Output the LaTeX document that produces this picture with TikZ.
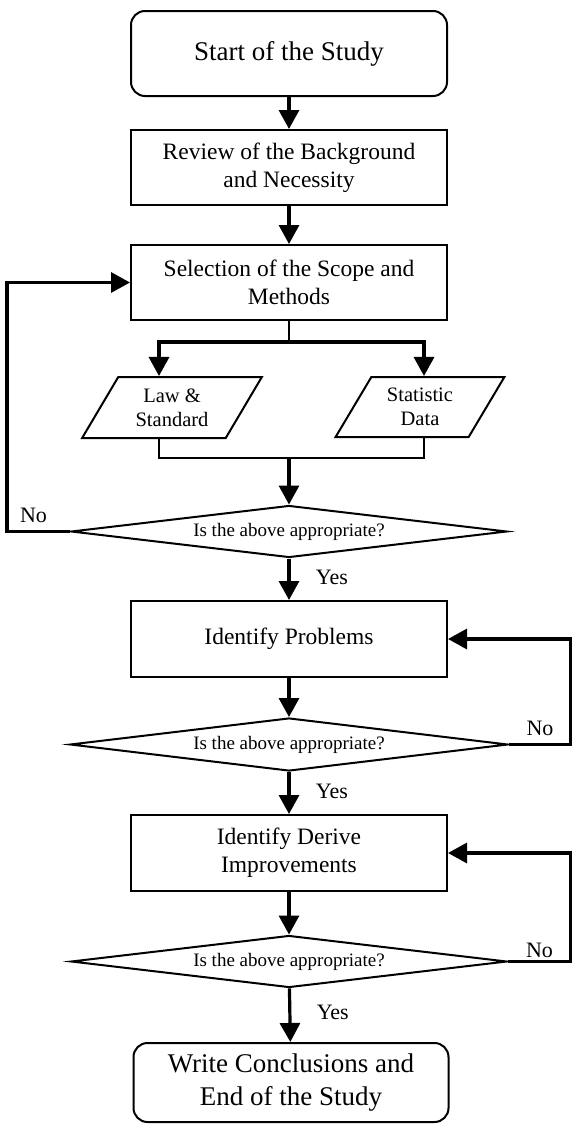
\documentclass[tikz,border=0pt]{standalone}
\usepackage{fontspec}
\setmainfont{Liberation Serif}
\usetikzlibrary{shapes.geometric,arrows.meta}
\begin{document}
\begin{tikzpicture}[x=1pt,y=-1pt,
    box/.style={draw, line width=2pt, minimum width=316pt, minimum height=75pt, align=center, font=\fontsize{23.5}{28}\selectfont},
    term/.style={box, rounded corners=14pt, font=\fontsize{27}{33}\selectfont},
    io/.style={draw, line width=2pt, trapezium, trapezium left angle=59, trapezium right angle=121, trapezium stretches=true, align=center, font=\fontsize{20.5}{24}\selectfont},
    cond/.style={draw, line width=2pt, diamond, aspect=8.5, inner sep=1pt, minimum width=436pt, minimum height=52pt, font=\fontsize{19}{22}\selectfont},
    arr/.style={line width=3.2pt, -{Triangle[length=19pt,width=20pt]}},
    lbl/.style={font=\fontsize{22}{26}\selectfont}]
    \useasboundingbox (0,0) rectangle (571,1127);
    % Inicio e revisao
    \node at (289,53.5) (start) [term, minimum height=85pt] {Start of the Study};
    \node at (289,167.5) (review) [box] {Review of the Background\\and Necessity};
    \node at (289,282.5) (scope) [box] {Selection of the Scope and\\Methods};
    % Fontes de dados
    \node at (172,407.5) (law) [io, minimum width=180pt, minimum height=61pt] {Law \&\\Standard};
    \node at (420,407) (stat) [io, minimum width=169pt, minimum height=60pt] {Statistic\\Data};
    \coordinate (fork) at (289,342);
    \coordinate (merge) at (289,458);
    % Decisoes e etapas
    \node at (289,531.5) (q1) [cond] {Is the above appropriate?};
    \node at (289,639) (prob) [box, minimum height=76pt] {Identify Problems};
    \node at (289,744.5) (q2) [cond, minimum width=438pt, minimum height=53pt] {Is the above appropriate?};
    \node at (289,853) (impr) [box, minimum height=76pt] {Identify Derive\\Improvements};
    \node at (289,961.5) (q3) [cond] {Is the above appropriate?};
    \node at (291,1082.5) (finish) [term, minimum width=315pt, minimum height=79pt] {Write Conclusions and\\End of the Study};
    % Ligacoes
    \draw[arr] (start) -- (review);
    \draw[arr] (review) -- (scope);
    \draw[line width=2pt] (scope.south) -- (fork);
    \draw[arr] (fork) -| ([xshift=-13pt]law.north);
    \draw[arr] (fork) -| ([xshift=4pt]stat.north);
    \draw[line width=2pt] ([xshift=-13pt]law.south) |- (merge) -| ([xshift=4pt]stat.south);
    \draw[arr] (merge) -- (q1);
    \draw[arr] (q1) -- (prob) node[lbl, pos=0.45, right=22pt] {Yes};
    \draw[arr] (prob) -- (q2);
    \draw[arr] (q2) -- (impr) node[lbl, pos=0.45, right=22pt] {Yes};
    \draw[arr] (impr) -- (q3);
    \draw[arr] (q3) -- (finish) node[lbl, pos=0.45, right=22pt] {Yes};
    % Retornos
    \draw[arr] (q1.west) -- ++(-63,0) node[lbl, pos=0.58, above=4pt] {No} |- (scope.west);
    \draw[arr] (q2.east) -- ++(62,0) node[lbl, midway, above=4pt] {No} |- (prob.east);
    \draw[arr] (q3.east) -- ++(63,0) node[lbl, midway, above=-1pt] {No} |- (impr.east);
\end{tikzpicture}
\end{document}
